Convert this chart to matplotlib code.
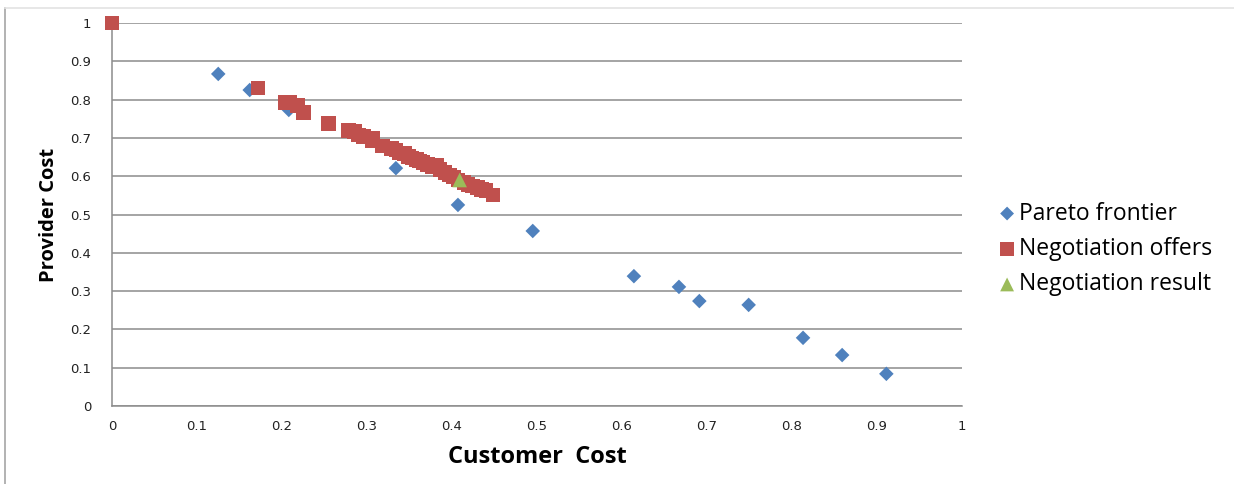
import matplotlib
matplotlib.use("Agg")
import matplotlib.pyplot as plt
from matplotlib.lines import Line2D

# Pareto frontier of the two cost functions
pareto_customer = [0.125, 0.162, 0.208, 0.334, 0.407, 0.495, 0.614, 0.667, 0.691, 0.749, 0.813, 0.859, 0.911]
pareto_provider = [0.867, 0.825, 0.773, 0.621, 0.525, 0.457, 0.339, 0.311, 0.274, 0.264, 0.178, 0.133, 0.084]

# offers exchanged during the negotiation
offer_customer = [0.0, 0.172, 0.204, 0.209, 0.218, 0.225, 0.255, 0.278, 0.285, 0.290, 0.296,
                  0.306, 0.307, 0.318, 0.329, 0.334, 0.338, 0.344, 0.349, 0.353, 0.358,
                  0.362, 0.366, 0.371, 0.377, 0.382, 0.386, 0.392, 0.397, 0.402, 0.407,
                  0.414, 0.419, 0.424, 0.430, 0.435, 0.440, 0.448]
offer_provider = [1.0, 0.830, 0.792, 0.793, 0.785, 0.766, 0.737, 0.720, 0.716, 0.708, 0.704,
                  0.693, 0.698, 0.679, 0.672, 0.668, 0.661, 0.659, 0.651, 0.647, 0.643,
                  0.640, 0.636, 0.630, 0.624, 0.628, 0.617, 0.609, 0.603, 0.598, 0.590,
                  0.583, 0.578, 0.574, 0.570, 0.566, 0.562, 0.551]

result_customer = [0.409]
result_provider = [0.590]

ticks = [0, 0.1, 0.2, 0.3, 0.4, 0.5, 0.6, 0.7, 0.8, 0.9, 1]
tick_labels = ["0", "0.1", "0.2", "0.3", "0.4", "0.5", "0.6", "0.7", "0.8", "0.9", "1"]

fig = plt.figure(figsize=(12.34, 4.84), dpi=100)
ax = fig.add_axes([112 / 1234, 1 - 406 / 484, 850 / 1234, 383 / 484])

ax.scatter(pareto_customer, pareto_provider, marker="D", s=55, color="#4F81BD",
           edgecolors="none", label="Pareto frontier", zorder=3, clip_on=False)
ax.scatter(offer_customer, offer_provider, marker="s", s=110, color="#C0504D",
           edgecolors="none", label="Negotiation offers", zorder=4, clip_on=False)
ax.scatter(result_customer, result_provider, marker="^", s=110, color="#9BBB59",
           edgecolors="none", label="Negotiation result", zorder=5, clip_on=False)

ax.set_xlim(0, 1)
ax.set_ylim(0, 1)
ax.set_xticks(ticks)
ax.set_xticklabels(tick_labels)
ax.set_yticks(ticks)
ax.set_yticklabels(tick_labels)
ax.tick_params(length=0, labelsize=9.5, labelcolor="#222222")
ax.tick_params(axis="x", pad=10)
ax.tick_params(axis="y", pad=15)

ax.yaxis.grid(True, color="#8C8C8C", linewidth=1.1)
ax.set_axisbelow(True)
for side in ["top", "right"]:
    ax.spines[side].set_visible(False)
for side in ["left", "bottom"]:
    ax.spines[side].set_color("#8C8C8C")
    ax.spines[side].set_linewidth(1.1)

ax.set_xlabel("Customer  Cost", fontfamily="Open Sans", fontweight="bold", fontsize=17, labelpad=9)
ax.set_ylabel("Provider Cost", fontfamily="Open Sans", fontweight="bold", fontsize=14.5, labelpad=8)

fig.legend(loc="center left", bbox_to_anchor=(975 / 1234, 1 - 249 / 484), frameon=False,
           prop={"family": "Open Sans", "size": 16.5}, handletextpad=0.0, labelspacing=0.5,
           handlelength=1.0, markerscale=0.95)

# outer chart border
fig.add_artist(Line2D([5 / 1234, 5 / 1234], [0, 1 - 8 / 484], color="#A6A6A6", linewidth=1.2))
fig.add_artist(Line2D([5 / 1234, 1], [1 - 8 / 484, 1 - 8 / 484], color="#E3E3E3", linewidth=1.2))

fig.savefig("out.png", dpi=100)
